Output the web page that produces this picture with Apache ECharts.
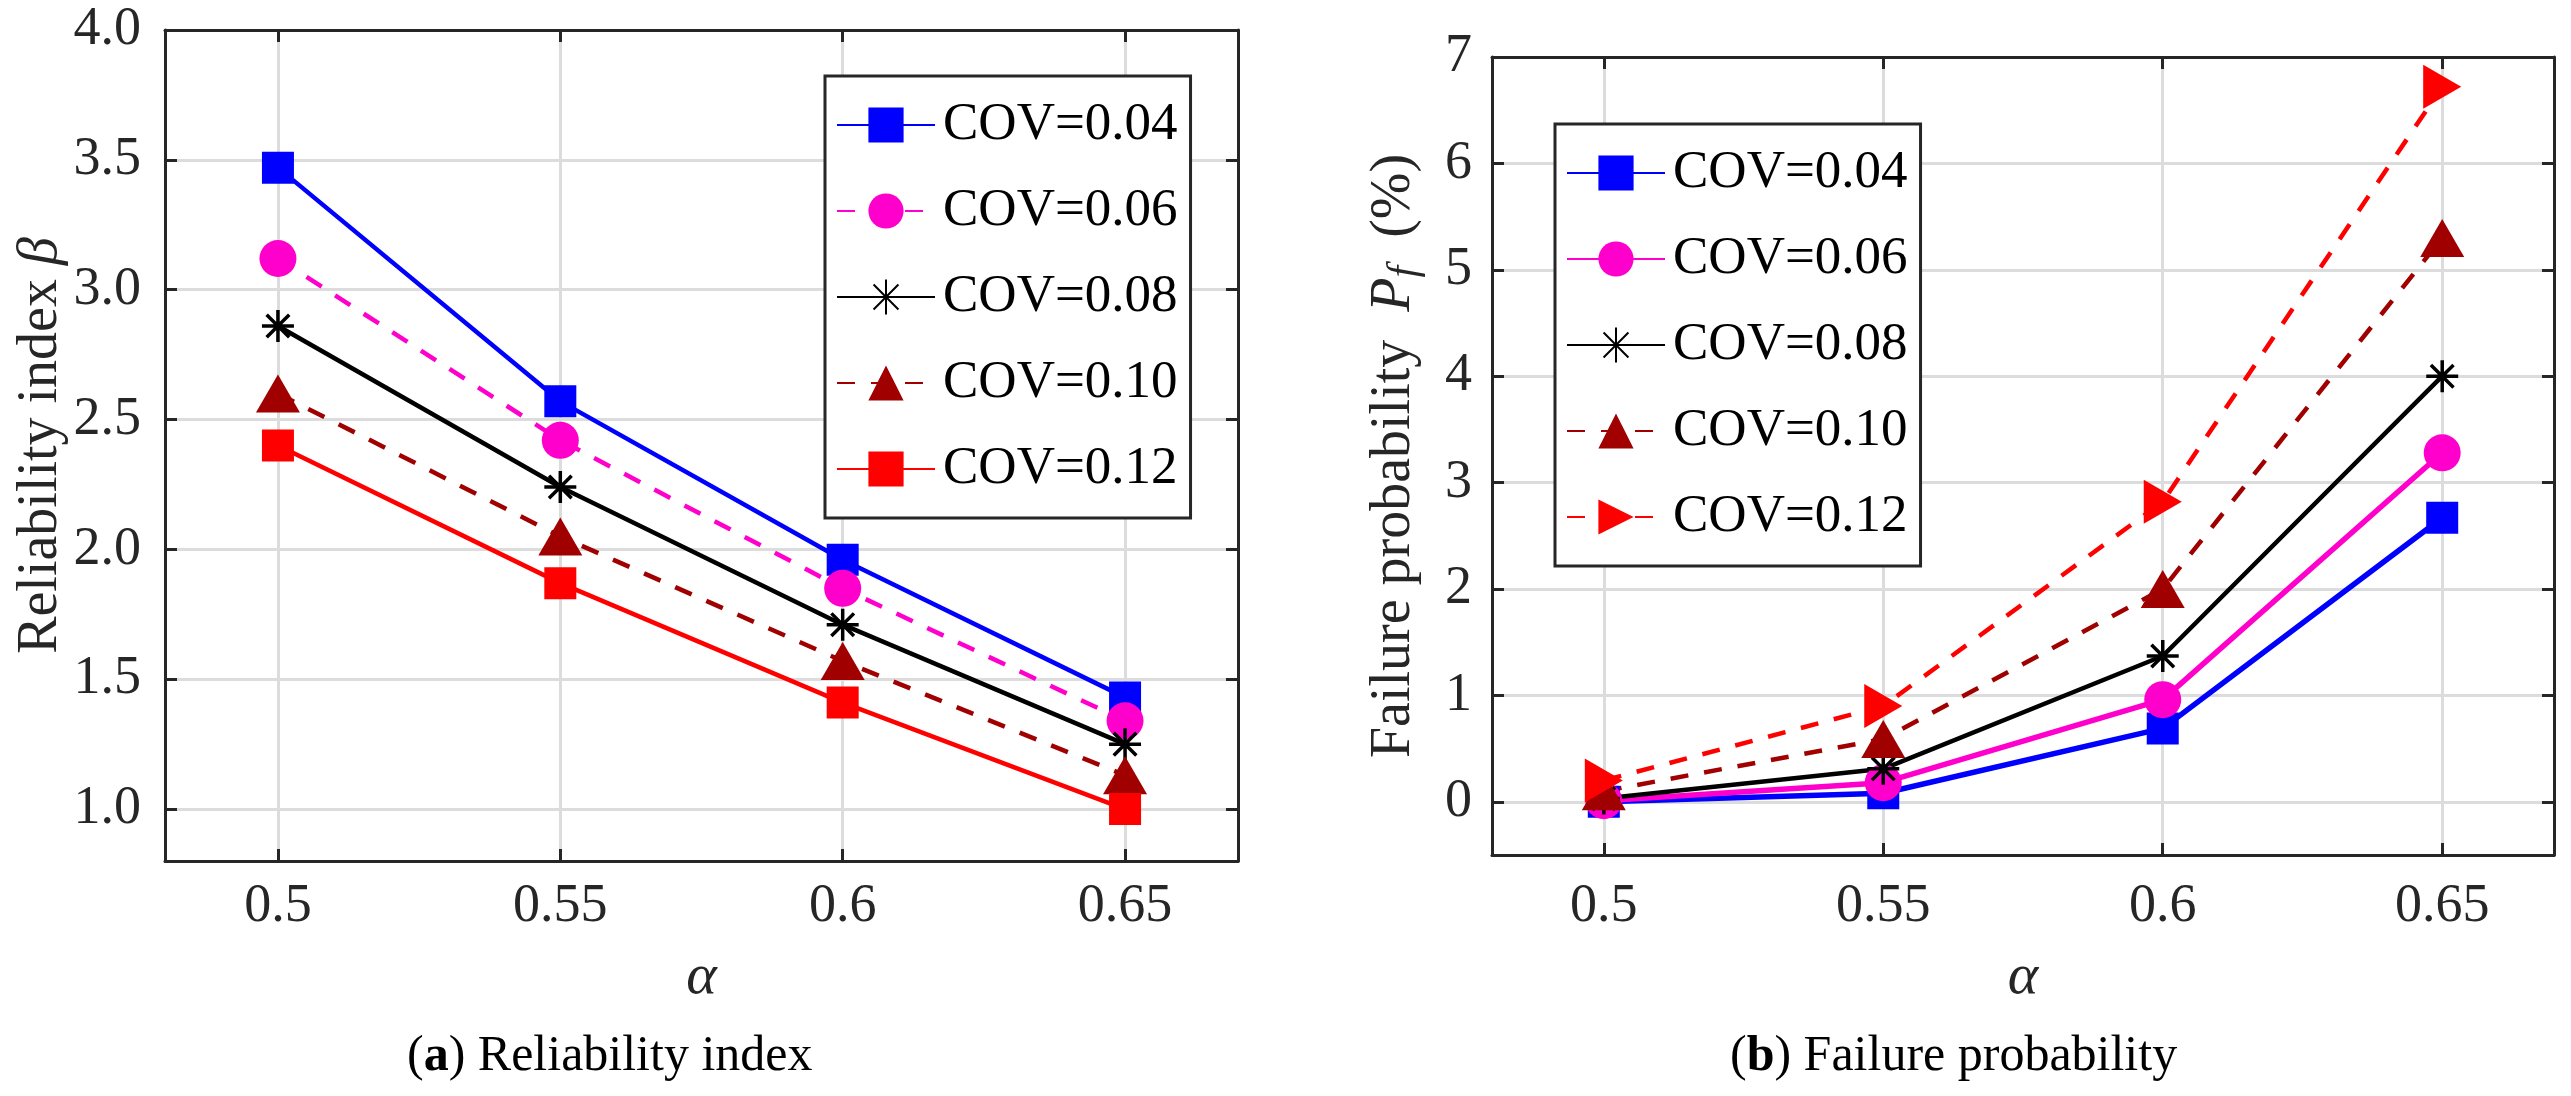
<!DOCTYPE html>
<html><head><meta charset="utf-8">
<script src="https://cdn.jsdelivr.net/npm/echarts@6/dist/echarts.min.js"></script>
<style>html,body{margin:0;padding:0;background:#fff}#c{width:2571px;height:1096px}</style>
</head><body><div id="c"></div>
<script>
// ---------- data ----------
const alpha = [0.5, 0.55, 0.6, 0.65];
const covNames = ['COV=0.04', 'COV=0.06', 'COV=0.08', 'COV=0.10', 'COV=0.12'];
// (a) Reliability index beta
const beta004 = [3.47, 2.57, 1.96, 1.43];
const beta006 = [3.12, 2.42, 1.85, 1.34];
const beta008 = [2.86, 2.24, 1.71, 1.25];
const beta010 = [2.60, 2.05, 1.57, 1.13];
const beta012 = [2.40, 1.87, 1.41, 1.00];
// (b) Failure probability Pf (%)
const pf004 = [0.00, 0.08, 0.69, 2.67];
const pf006 = [0.01, 0.18, 0.96, 3.28];
const pf008 = [0.03, 0.31, 1.37, 4.00];
const pf010 = [0.10, 0.59, 2.00, 5.30];
const pf012 = [0.20, 0.90, 2.82, 6.72];
// ticks
const xTicks = [0.5, 0.55, 0.6, 0.65];
const betaTicks = [1.0, 1.5, 2.0, 2.5, 3.0, 3.5, 4.0];
const pfTicks = [0, 1, 2, 3, 4, 5, 6, 7];

// ---------- styling ----------
const FONT = 'Liberation Serif';
const AX = '#262626';
const GRIDC = '#dcdcdc';
const ASTER = 'path://M15,0L15,30M0,15L30,15M4.4,4.4L25.6,25.6M4.4,25.6L25.6,4.4';
const BLUE = '#0000ff', MAG = '#ff00cc', BLK = '#000000', DRED = '#a00000', RED = '#ff0000';

function mk(name, ys, color, symbol, size, xi, yi, dashed, width, rotate) {
  const aster = symbol === ASTER;
  return {
    type: 'line', name: name, xAxisIndex: xi, yAxisIndex: yi,
    data: alpha.map((a, i) => [a, ys[i]]),
    symbol: symbol, symbolSize: size, symbolRotate: rotate || 0,
    showAllSymbol: true, animation: false, clip: false, silent: true,
    lineStyle: { color: color, width: width, type: dashed ? [18, 16] : 'solid', cap: 'butt' },
    itemStyle: { color: color, borderColor: color, borderWidth: aster ? 3.5 : 0, opacity: 1 },
    emphasis: { disabled: true }, z: 3
  };
}

const tickRich = { t: { fontFamily: FONT, fontSize: 54, color: AX } };

function xAx(gi, pos, main, nameGap, margin) {
  return {
    type: 'value', gridIndex: gi, position: pos, min: 0.48, max: 0.67,
    name: main ? '{a|α}' : '', nameLocation: 'middle', nameGap: nameGap,
    nameTextStyle: { fontFamily: FONT, fontSize: 58, fontStyle: 'italic', color: AX,
      rich: { a: { fontFamily: FONT, fontSize: 58, fontStyle: 'italic', color: AX } } },
    axisLine: { show: true, onZero: false, lineStyle: { color: AX, width: 3 } },
    axisTick: { show: true, inside: true, length: 12, customValues: xTicks, lineStyle: { color: AX, width: 3 } },
    axisLabel: { show: main, customValues: xTicks, margin: margin, fontFamily: FONT, fontSize: 54, color: AX,
      rich: tickRich, formatter: v => '{t|' + String(+(+v).toFixed(2)) + '}' },
    splitLine: { show: main, lineStyle: { color: GRIDC, width: 3 } }
  };
}

function yAx(gi, pos, main, min, max, ticks, fmt, name, nameGap, margin, rich) {
  return {
    type: 'value', gridIndex: gi, position: pos, min: min, max: max,
    name: main ? name : '', nameLocation: 'middle', nameGap: nameGap,
    nameTextStyle: { fontFamily: FONT, fontSize: 56, color: AX, rich: rich },
    axisLine: { show: true, onZero: false, lineStyle: { color: AX, width: 3 } },
    axisTick: { show: true, inside: true, length: 12, customValues: ticks, lineStyle: { color: AX, width: 3 } },
    axisLabel: { show: main, customValues: ticks, margin: margin, fontFamily: FONT, fontSize: 54, color: AX,
      rich: tickRich, formatter: fmt ? (v => '{t|' + fmt(v) + '}') : null },
    splitLine: { show: main, lineStyle: { color: GRIDC, width: 3 } }
  };
}

function lg(names, left, top) {
  return {
    data: names, orient: 'vertical', left: left, top: top,
    itemWidth: 98, itemHeight: 44, itemGap: 32,
    padding: [22, 13, 22, 11], backgroundColor: '#ffffff', borderColor: AX, borderWidth: 3, borderRadius: 0,
    textStyle: { fontFamily: FONT, fontSize: 53, color: '#000', lineHeight: 54,
      rich: { t: { fontFamily: FONT, fontSize: 53, color: '#000', lineHeight: 54, padding: [0, 0, 0, 3] } } },
    formatter: n => '{t|' + n.slice(1) + '}', selectedMode: false, z: 6
  };
}

const richLeft = { i: { fontFamily: FONT, fontSize: 56, fontStyle: 'italic', color: AX } };
const richRight = {
  i: { fontFamily: FONT, fontSize: 56, fontStyle: 'italic', color: AX },
  s: { fontFamily: FONT, fontSize: 42, fontStyle: 'italic', color: AX, padding: [22, 0, 0, 0] }
};

const namesA = covNames.map(n => 'a' + n);
const namesB = covNames.map(n => 'b' + n);

const option = {
  backgroundColor: '#ffffff',
  animation: false,
  textStyle: { fontFamily: FONT },
  grid: [
    { left: 165, top: 30, width: 1073, height: 831 },
    { left: 1492, top: 57, width: 1062, height: 798 }
  ],
  xAxis: [
    xAx(0, 'bottom', true, 88, 19),
    xAx(0, 'top', false, 0, 0),
    xAx(1, 'bottom', true, 94, 25),
    xAx(1, 'top', false, 0, 0)
  ],
  yAxis: [
    yAx(0, 'left', true, 0.8, 4.0, betaTicks, v => (+v).toFixed(1), 'Reliability index {i|β}', 92, 24, richLeft),
    yAx(0, 'right', false, 0.8, 4.0, betaTicks, null, '', 0, 0, null),
    yAx(1, 'left', true, -0.5, 7, pfTicks, v => String(Math.round(v)),
        'Failure probability\u00a0\u00a0{i|P}{s|f}\u00a0\u00a0(%)', 66, 20, richRight),
    yAx(1, 'right', false, -0.5, 7, pfTicks, null, '', 0, 0, null)
  ],
  legend: [lg(namesA, 825, 76), lg(namesB, 1555, 124)],
  title: [
    { text: '({b|a}) Reliability index', left: 407, top: 1032, padding: 0,
      textStyle: { fontFamily: FONT, fontSize: 50, fontWeight: 'normal', color: '#000',
        rich: { b: { fontFamily: FONT, fontSize: 50, fontWeight: 'bold', color: '#000' } } } },
    { text: '({b|b}) Failure probability', left: 1730, top: 1032, padding: 0,
      textStyle: { fontFamily: FONT, fontSize: 50, fontWeight: 'normal', color: '#000',
        rich: { b: { fontFamily: FONT, fontSize: 50, fontWeight: 'bold', color: '#000' } } } }
  ],
  series: [
    mk(namesA[0], beta004, BLUE, 'rect', 32, 0, 0, false, 4.5),
    mk(namesA[1], beta006, MAG, 'circle', 37, 0, 0, true, 4.5),
    mk(namesA[2], beta008, BLK, ASTER, 32, 0, 0, false, 4.5),
    mk(namesA[3], beta010, DRED, 'triangle', [44, 38], 0, 0, true, 4.5),
    mk(namesA[4], beta012, RED, 'rect', 32, 0, 0, false, 4.5),
    mk(namesB[0], pf004, BLUE, 'rect', 32, 2, 2, false, 5.5),
    mk(namesB[1], pf006, MAG, 'circle', 37, 2, 2, false, 5.5),
    mk(namesB[2], pf008, BLK, ASTER, 32, 2, 2, false, 4.5),
    mk(namesB[3], pf010, DRED, 'triangle', [44, 38], 2, 2, true, 4.5),
    mk(namesB[4], pf012, RED, 'triangle', [44, 38], 2, 2, true, 4.5, -90)
  ]
};

const chart = echarts.init(document.getElementById('c'), null, { renderer: 'canvas', width: 2571, height: 1096 });
chart.setOption(option);
</script>
</body></html>
